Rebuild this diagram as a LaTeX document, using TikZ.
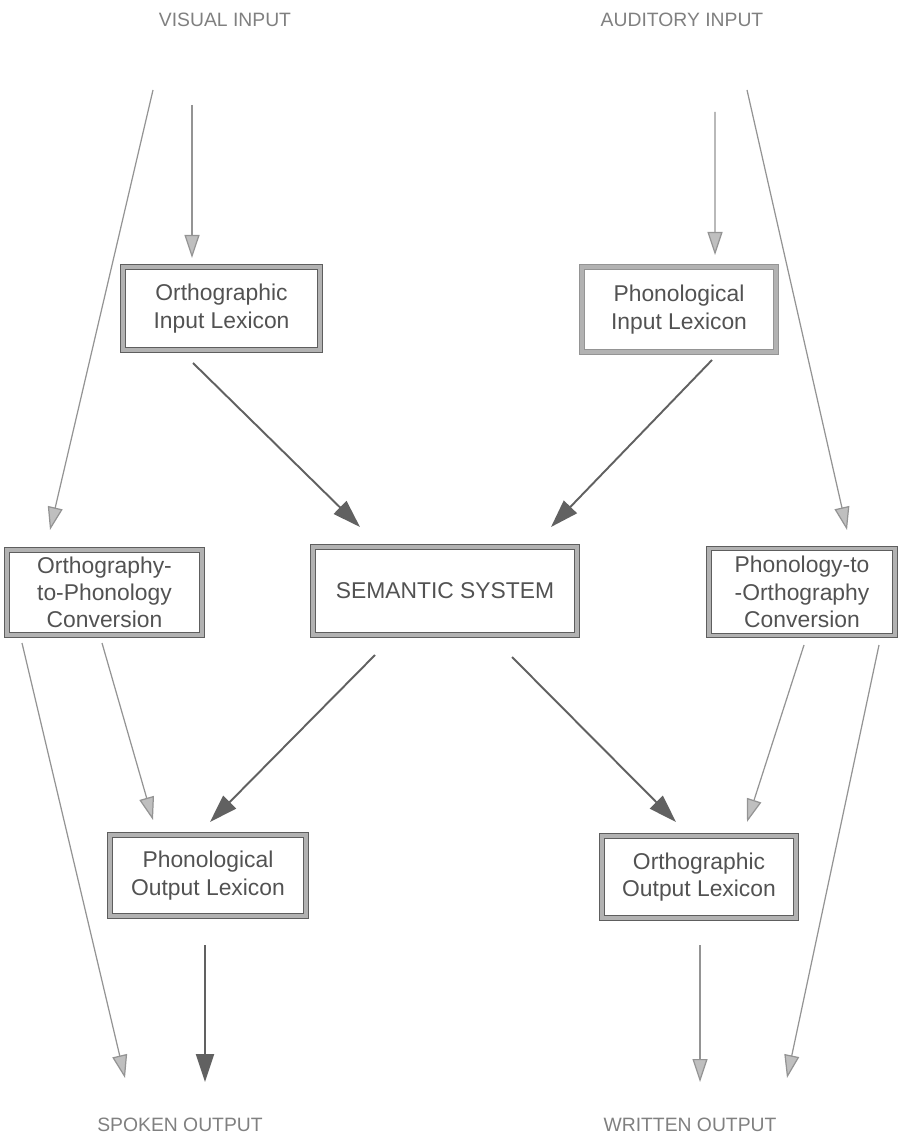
\documentclass[tikz,border=0pt]{standalone}
\usepackage{fontspec}
\setmainfont{Liberation Sans}
\usepackage{xcolor}
\definecolor{Frame}{HTML}{5E5E5E}
\usetikzlibrary{arrows.meta}

\begin{document}
\begin{tikzpicture}[
    box/.style={draw=Frame,double=black!30,double distance=1.8pt,line width=0.6pt,
                align=center,text=black!68,font=\fontsize{13}{15.5}\selectfont,
                inner sep=2pt},   % lexicon / conversion boxes
    io/.style={text=black!50,font=\fontsize{11}{13}\selectfont},   % input / output labels
    arw/.style={-{Triangle[length=4.6mm,width=3.0mm,fill=black!25]},black!42,line width=0.7pt},
    darw/.style={-{Triangle[length=5.6mm,width=3.6mm,fill=black!62]},black!62,line width=1.1pt},
  ]
  \useasboundingbox (0,0) rectangle (18.08,-22.76);

  % ---------- input and output labels ----------
  \node[io] (vis) at (4.50,-0.40)  {VISUAL INPUT};
  \node[io] (aud) at (13.64,-0.40) {AUDITORY INPUT};
  \node[io] (spk) at (3.60,-22.50) {SPOKEN OUTPUT};
  \node[io] (wrt) at (13.80,-22.50) {WRITTEN OUTPUT};

  % ---------- boxes ----------
  \node[box,minimum width=3.94cm,minimum height=1.66cm] (oil) at (4.43,-6.17)
       {Orthographic\\Input Lexicon};
  \node[box,minimum width=3.88cm,minimum height=1.70cm,draw=black!42] (pil) at (13.58,-6.19)
       {Phonological\\Input Lexicon};
  \node[box,minimum width=3.90cm,minimum height=1.70cm] (opc) at (2.09,-11.85)
       {Orthography-\\to-Phonology\\Conversion};
  \node[box,minimum width=5.28cm,minimum height=1.76cm] (sem) at (8.90,-11.82)
       {SEMANTIC SYSTEM};
  \node[box,minimum width=3.72cm,minimum height=1.74cm] (poc) at (16.04,-11.84)
       {Phonology-to\\-Orthography\\Conversion};
  \node[box,minimum width=3.92cm,minimum height=1.62cm] (pol) at (4.16,-17.51)
       {Phonological\\Output Lexicon};
  \node[box,minimum width=3.88cm,minimum height=1.64cm] (ool) at (13.98,-17.54)
       {Orthographic\\Output Lexicon};

  % ---------- routes from the inputs ----------
  \draw[arw] ([shift={(-1.44,-1.40)}]vis.center) -- ([shift={(-1.09,1.25)}]opc.center);
  \draw[arw] ([shift={(-0.66,-1.70)}]vis.center) -- ([shift={(-0.59,1.01)}]oil.center);
  \draw[arw] ([shift={(0.66,-1.84)}]aud.center)  -- ([shift={(0.72,1.09)}]pil.center);
  \draw[arw] ([shift={(1.30,-1.40)}]aud.center)  -- ([shift={(0.90,1.24)}]poc.center);

  % ---------- into and out of the semantic system ----------
  \draw[darw] ([shift={(-0.57,-1.09)}]oil.center) -- ([shift={(-1.70,1.28)}]sem.center);
  \draw[darw] ([shift={(0.66,-1.01)}]pil.center)  -- ([shift={(2.12,1.28)}]sem.center);
  \draw[darw] ([shift={(-1.40,-1.28)}]sem.center) -- ([shift={(0.04,1.07)}]pol.center);
  \draw[darw] ([shift={(1.34,-1.32)}]sem.center)  -- ([shift={(-0.46,1.10)}]ool.center);

  % ---------- conversion routes ----------
  \draw[arw] ([shift={(-1.65,-1.01)}]opc.center) -- ([shift={(-1.10,0.94)}]spk.center);
  \draw[arw] ([shift={(-0.05,-1.01)}]opc.center) -- ([shift={(-1.10,1.11)}]pol.center);
  \draw[arw] ([shift={(0.04,-1.06)}]poc.center)  -- ([shift={(0.96,1.10)}]ool.center);
  \draw[arw] ([shift={(1.54,-1.06)}]poc.center)  -- ([shift={(1.94,0.94)}]wrt.center);

  % ---------- to the outputs ----------
  \draw[darw] ([shift={(-0.06,-1.39)}]pol.center) -- ([shift={(0.50,0.86)}]spk.center);
  \draw[arw]  ([shift={(0.02,-1.36)}]ool.center)  -- ([shift={(0.20,0.86)}]wrt.center);
\end{tikzpicture}
\end{document}
